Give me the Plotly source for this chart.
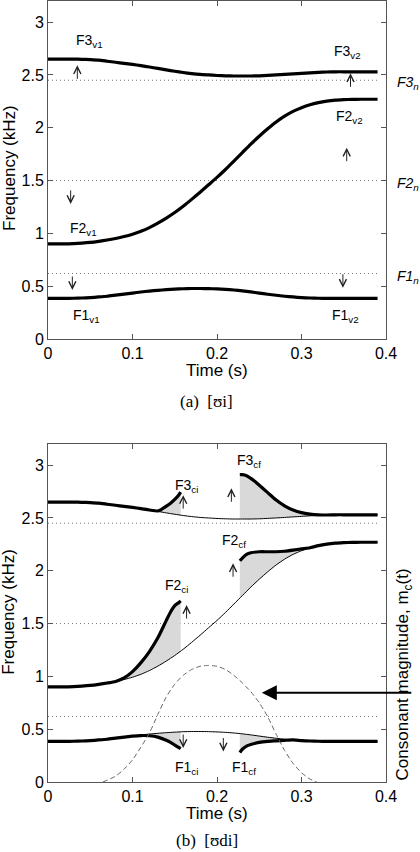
import numpy as np
import plotly.graph_objects as go

# ---------------- data ----------------
time = [0.00, 0.01, 0.02, 0.03, 0.04, 0.05, 0.06, 0.07, 0.08, 0.09,
        0.10, 0.11, 0.12, 0.13, 0.14, 0.15, 0.16, 0.17, 0.18, 0.19,
        0.20, 0.21, 0.22, 0.23, 0.24, 0.25, 0.26, 0.27, 0.28, 0.29,
        0.30, 0.31, 0.32, 0.33, 0.34, 0.35, 0.36, 0.37, 0.38, 0.39]
F3_base = [2.65, 2.65, 2.65, 2.65, 2.648, 2.645, 2.64, 2.63, 2.62, 2.61,
           2.60, 2.588, 2.575, 2.562, 2.548, 2.535, 2.523, 2.513, 2.505, 2.50,
           2.495, 2.492, 2.49, 2.49, 2.49, 2.492, 2.496, 2.50, 2.505, 2.51,
           2.515, 2.52, 2.525, 2.528, 2.53, 2.53, 2.53, 2.53, 2.53, 2.53]
F2_base = [0.90, 0.90, 0.90, 0.903, 0.908, 0.915, 0.925, 0.937, 0.952, 0.97,
           0.992, 1.02, 1.055, 1.097, 1.145, 1.198, 1.257, 1.322, 1.39, 1.46,
           1.53, 1.605, 1.685, 1.765, 1.845, 1.92, 1.99, 2.055, 2.11, 2.155,
           2.19, 2.218, 2.238, 2.252, 2.261, 2.266, 2.269, 2.27, 2.27, 2.27]
F1_base = [0.385, 0.385, 0.385, 0.386, 0.388, 0.392, 0.398, 0.405, 0.415, 0.425,
           0.435, 0.445, 0.454, 0.461, 0.467, 0.472, 0.476, 0.478, 0.478, 0.477,
           0.474, 0.47, 0.464, 0.456, 0.446, 0.435, 0.424, 0.414, 0.405, 0.398,
           0.392, 0.388, 0.386, 0.385, 0.385, 0.385, 0.385, 0.385, 0.385, 0.385]

# neutral formants
F_neutral = [2.45, 1.50, 0.62]
neutral_labels = ["F3<sub>n</sub>", "F2<sub>n</sub>", "F1<sub>n</sub>"]

# consonant-perturbed segments (bottom panel)
F3_ci_t = [0.12, 0.13, 0.135, 0.14, 0.145, 0.15, 0.155, 0.157]
F3_ci = [2.575, 2.566, 2.585, 2.612, 2.64, 2.675, 2.72, 2.745]
F3_cf_t = [0.227, 0.23, 0.235, 0.24, 0.245, 0.25, 0.26, 0.27, 0.28, 0.29, 0.30, 0.31, 0.32, 0.33]
F3_cf = [2.91, 2.91, 2.90, 2.875, 2.845, 2.81, 2.74, 2.67, 2.615, 2.575, 2.55, 2.537, 2.53, 2.528]

F2_ci_t = [0.08, 0.09, 0.10, 0.11, 0.12, 0.13, 0.14, 0.145, 0.15, 0.155, 0.157]
F2_ci = [0.952, 0.985, 1.045, 1.13, 1.235, 1.365, 1.53, 1.61, 1.67, 1.70, 1.715]
F2_cf_t = [0.227, 0.23, 0.235, 0.24, 0.25, 0.26, 0.27, 0.28, 0.29, 0.30, 0.31]
F2_cf = [2.095, 2.12, 2.155, 2.17, 2.18, 2.18, 2.18, 2.185, 2.195, 2.207, 2.218]

F1_ci_t = [0.10, 0.11, 0.12, 0.13, 0.14, 0.145, 0.15, 0.155, 0.157]
F1_ci = [0.435, 0.44, 0.438, 0.425, 0.395, 0.375, 0.35, 0.325, 0.315]
F1_cf_t = [0.227, 0.23, 0.235, 0.24, 0.25, 0.26, 0.27, 0.28, 0.29]
F1_cf = [0.28, 0.31, 0.34, 0.355, 0.375, 0.385, 0.39, 0.395, 0.398]

# consonant magnitude m_c(t)
mc_t = [0.065, 0.08, 0.09, 0.10, 0.11, 0.12, 0.13, 0.14, 0.15, 0.16, 0.17, 0.18, 0.19,
        0.20, 0.21, 0.22, 0.23, 0.24, 0.25, 0.26, 0.27, 0.28, 0.29, 0.30, 0.31, 0.318]
mc = [0.0, 0.05, 0.11, 0.19, 0.30, 0.42, 0.58, 0.73, 0.84, 0.915, 0.965, 0.993, 1.0,
      0.993, 0.965, 0.915, 0.85, 0.775, 0.68, 0.56, 0.41, 0.27, 0.16, 0.08, 0.025, 0.0]

x_ticks = [0, 0.1, 0.2, 0.3, 0.4]
x_ticktext = ["0", "0.1", "0.2", "0.3", "0.4"]
y_ticks = [0, 0.5, 1, 1.5, 2, 2.5, 3]
y_ticktext = ["0", "0.5", "1", "1.5", "2", "2.5", "3"]

# direction arrows: (time, centre frequency, +1 up / -1 down)
top_arrows = [(0.0347, 2.52, 1), (0.358, 2.445, 1), (0.0268, 1.35, -1),
              (0.3535, 1.74, 1), (0.0288, 0.535, -1), (0.349, 0.556, -1)]
bot_arrows = [(0.160, 2.645, 1), (0.217, 2.71, 1), (0.219, 2.0, 1),
              (0.164, 1.604, 1), (0.160, 0.393, -1), (0.2075, 0.36, -1)]

# ---------------- styling ----------------
SANS = "Liberation Sans, Arial, Helvetica, sans-serif"
SERIF = "Liberation Serif, DejaVu Serif, Times New Roman, serif"
AX = "#555555"
FILL = "#d9d9d9"
THICK = 3.2

time_a = np.array(time)
fig = go.Figure()

def line(x, y, xa, ya, width, color="black", dash=None):
    fig.add_trace(go.Scatter(x=list(x), y=list(y), mode="lines", xaxis=xa, yaxis=ya,
                             line=dict(color=color, width=width, dash=dash, shape="spline", smoothing=0.6),
                             hoverinfo="skip", showlegend=False))

# ---------- top panel ----------
for v in F_neutral:
    fig.add_trace(go.Scatter(x=[time[0], time[-1]], y=[v, v], mode="lines", xaxis="x", yaxis="y",
                             line=dict(color="#777777", width=1, dash="1px,3px"),
                             hoverinfo="skip", showlegend=False))
for base in (F1_base, F2_base, F3_base):
    line(time, base, "x", "y", THICK)

# ---------- bottom panel ----------
for v in F_neutral:
    fig.add_trace(go.Scatter(x=[time[0], time[-1]], y=[v, v], mode="lines", xaxis="x2", yaxis="y2",
                             line=dict(color="#777777", width=1, dash="1px,3px"),
                             hoverinfo="skip", showlegend=False))

groups = [
    (F3_base, F3_ci_t, F3_ci, F3_cf_t, F3_cf),
    (F2_base, F2_ci_t, F2_ci, F2_cf_t, F2_cf),
    (F1_base, F1_ci_t, F1_ci, F1_cf_t, F1_cf),
]
for base, cit, ci, cft, cf in groups:
    for st, sv in ((cit, ci), (cft, cf)):
        b = np.interp(st, time, base)
        px = list(st) + list(st[::-1])
        py = list(sv) + list(b[::-1])
        fig.add_trace(go.Scatter(x=px, y=py, mode="lines", fill="toself", fillcolor=FILL,
                                 line=dict(width=0, color=FILL), xaxis="x2", yaxis="y2",
                                 hoverinfo="skip", showlegend=False))
for base in (F1_base, F2_base, F3_base):
    line(time, base, "x2", "y2", 1)
for base, cit, ci, cft, cf in groups:
    b = np.array(base)
    m1 = time_a < cit[0]
    line(list(time_a[m1]) + list(cit), list(b[m1]) + list(ci), "x2", "y2", THICK)
    m2 = time_a > cft[-1]
    line(list(cft) + list(time_a[m2]), list(cf) + list(b[m2]), "x2", "y2", THICK)

fig.add_trace(go.Scatter(x=mc_t, y=mc, mode="lines", xaxis="x2", yaxis="y3",
                         line=dict(color="#666666", width=1, dash="5px,3px", shape="spline", smoothing=0.6),
                         hoverinfo="skip", showlegend=False))

# ---------------- axes ----------------
axis_common = dict(showgrid=False, zeroline=False, showline=True, linecolor=AX, linewidth=1,
                   mirror="ticks", ticks="inside", ticklen=5, tickcolor=AX, tickwidth=1,
                   tickfont=dict(family=SANS, size=16, color="black"), fixedrange=True)
TOP = [0.5665, 0.9987]
BOT = [0.0, 0.4322]
fig.update_layout(
    xaxis=dict(domain=[0, 1], range=[0, 0.4], anchor="y", tickvals=x_ticks, ticktext=x_ticktext, **axis_common),
    yaxis=dict(domain=TOP, range=[0, 3.2], anchor="x", tickvals=y_ticks, ticktext=y_ticktext, **axis_common),
    xaxis2=dict(domain=[0, 1], range=[0, 0.4], anchor="y2", tickvals=x_ticks, ticktext=x_ticktext, **axis_common),
    yaxis2=dict(domain=BOT, range=[0, 3.2], anchor="x2", tickvals=y_ticks, ticktext=y_ticktext, **axis_common),
    yaxis3=dict(overlaying="y2", side="right", range=[0, 2.9], anchor="x2", visible=False, fixedrange=True),
    width=420, height=852,
    margin=dict(l=48, r=34, t=0, b=70),
    paper_bgcolor="white", plot_bgcolor="white",
    showlegend=False,
)

# ---------------- annotations ----------------
ann = []
def txt(x, y, text, xr, yr, size=14, family=SANS, xanchor="left", yanchor="middle", italic=False, angle=0):
    t = "<i>" + text + "</i>" if italic else text
    ann.append(dict(x=x, y=y, xref=xr, yref=yr, text=t, showarrow=False, xanchor=xanchor, yanchor=yanchor,
                    textangle=angle, font=dict(family=family, size=size, color="black")))

top_labels = [(0.0308, 2.82, "F3<sub>v1</sub>"), (0.3357, 2.72, "F3<sub>v2</sub>"),
              (0.3385, 2.10, "F2<sub>v2</sub>"), (0.0237, 1.04, "F2<sub>v1</sub>"),
              (0.0269, 0.22, "F1<sub>v1</sub>"), (0.3337, 0.22, "F1<sub>v2</sub>")]
for x, y, s in top_labels:
    txt(x, y, s, "x", "y")
for v, s in zip(F_neutral, neutral_labels):
    txt(1.0266, v - 0.03, s, "paper", "y", italic=True)

bot_labels = [(0.148, 2.80, "F3<sub>ci</sub>"), (0.2213, 3.04, "F3<sub>cf</sub>"),
              (0.2036, 2.28, "F2<sub>cf</sub>"), (0.136, 1.855, "F2<sub>ci</sub>"),
              (0.148, 0.135, "F1<sub>ci</sub>"), (0.2154, 0.135, "F1<sub>cf</sub>")]
for x, y, s in bot_labels:
    txt(x, y, s, "x2", "y2")

HALF = 7.5 / 105.6
for arrows, xr, yr in ((top_arrows, "x", "y"), (bot_arrows, "x2", "y2")):
    for t, f, d in arrows:
        ann.append(dict(x=t, y=f + d * HALF, xref=xr, yref=yr, ax=0, ay=15 * d, text="",
                        showarrow=True, arrowhead=5, arrowsize=1.4, arrowwidth=1,
                        arrowcolor="#222222", standoff=0))

txt(0.5, 0.5265, "Time (s)", "paper", "paper", size=17, xanchor="center")
txt(0.5, -0.0397, "Time (s)", "paper", "paper", size=17, xanchor="center")
txt(-0.116, 0.785, "Frequency (kHz)", "paper", "paper", size=17, xanchor="center", angle=-90)
txt(-0.116, 0.2174, "Frequency (kHz)", "paper", "paper", size=17, xanchor="center", angle=-90)
txt(1.056, 0.1375, "Consonant magnitude, m<sub>c</sub>(t)", "paper", "paper", size=17, xanchor="center", angle=-90)

txt(0.470, 0.486, "(a)  [\u028ai]", "paper", "paper", size=17, family=SERIF, xanchor="center")
txt(0.470, -0.0895, "(b)  [\u028adi]", "paper", "paper", size=17, family=SERIF, xanchor="center", yanchor="bottom")

ann.append(dict(x=0.253, y=0.845, xref="x2", yref="y2", ax=151, ay=0, text="", showarrow=True,
                arrowhead=2, arrowsize=1.5, arrowwidth=2, arrowcolor="black", standoff=0))

fig.update_layout(annotations=ann)
fig.write_html("out.html", config={"displayModeBar": False},
               post_script="document.body.style.margin='0px';document.body.style.overflow='hidden';")
